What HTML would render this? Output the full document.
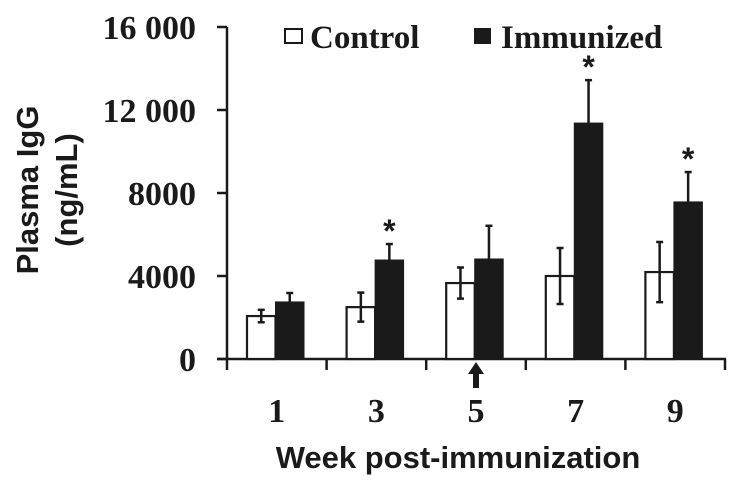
<!DOCTYPE html>
<html><head><meta charset="utf-8"><style>
html,body{margin:0;padding:0;background:#fff;}
svg{display:block;}
</style></head><body>
<svg id="chart" width="741" height="489" viewBox="0 0 741 489" xmlns="http://www.w3.org/2000/svg">
<g id="axes"></g>
<g id="bars"></g>
<g>
  <rect x="285" y="29" width="17" height="14" fill="#fff" stroke="#1a1a1a" stroke-width="2"/>
  <text x="310" y="48" font-family="Liberation Serif, serif" font-weight="bold" font-size="33" fill="#1a1a1a">Control</text>
  <rect x="474" y="28" width="17" height="16" fill="#1a1a1a"/>
  <text x="501" y="48" font-family="Liberation Serif, serif" font-weight="bold" font-size="33" fill="#1a1a1a">Immunized</text>
</g>
<g font-family="Liberation Sans, sans-serif" font-weight="bold" font-size="31" fill="#1a1a1a" text-anchor="middle">
  <text transform="translate(38,190) rotate(-90)">Plasma IgG</text>
  <text transform="translate(77,190) rotate(-90)">(ng/mL)</text>
</g>
<text x="458" y="468" text-anchor="middle" font-family="Liberation Sans, sans-serif" font-weight="bold" font-size="31" fill="#1a1a1a">Week post-immunization</text>
<polygon points="476,362 468,374 473,374 473,388 479,388 479,374 484,374" fill="#1a1a1a"/>
</svg>
<script>
const categories = ['1','3','5','7','9'];
const controlValues = [2070, 2500, 3660, 4000, 4190];
const controlErrors = [300, 700, 750, 1350, 1450];
const immunizedValues = [2750, 4770, 4820, 11370, 7570];
const immunizedErrors = [430, 770, 1600, 2070, 1440];
const significant = [false, true, false, true, true];
const yTicks = [0, 4000, 8000, 12000, 16000];
const yTickLabels = ['0', '4000', '8000', '12 000', '16 000'];

const NS = 'http://www.w3.org/2000/svg';
const x0 = 227, x1 = 725, yBase = 359, yTop = 27, yMax = 16000;
const band = (x1 - x0) / categories.length;
function y(v){ return yBase - (v / yMax) * (yBase - yTop); }
function xCat(i){ return x0 + i * band; }
function mk(tag, attrs, parent){
  const e = document.createElementNS(NS, tag);
  for (const k in attrs) e.setAttribute(k, attrs[k]);
  parent.appendChild(e);
  return e;
}
const axes = document.getElementById('axes');
const bars = document.getElementById('bars');
const ink = '#1a1a1a';

let l = mk('line', {x1:x0, y1:yTop, x2:x0, y2:yBase+1, stroke:ink, 'stroke-width':2.5}, axes);


l = mk('line', {x1:x0-10, y1:yBase, x2:x1+1, y2:yBase, stroke:ink, 'stroke-width':2.5}, axes);



yTicks.forEach((v, i) => {
  const t = mk('line', {x1:x0-10, y1:y(v), x2:x0, y2:y(v), stroke:ink, 'stroke-width':2.5}, axes);
  
  
  const tx = mk('text', {x:196, y:y(v)+12, 'text-anchor':'end', 'font-family':'Liberation Serif, serif', 'font-weight':'bold', 'font-size':34, fill:ink}, axes);
  tx.textContent = yTickLabels[i];
  
  
});
for (let i = 0; i <= categories.length; i++){
  const t = mk('line', {x1:xCat(i), y1:yBase, x2:xCat(i), y2:yBase+11, stroke:ink, 'stroke-width':2.5}, axes);
  
  
}
categories.forEach((c, i) => {
  const tx = mk('text', {x:xCat(i)+band/2, y:422, 'text-anchor':'middle', 'font-family':'Liberation Serif, serif', 'font-weight':'bold', 'font-size':34, fill:ink}, axes);
  tx.textContent = c;
  
  
});

const bw = 28.5, off = 20;
function errBar(cx, v, e, both, name){
  const g = mk('g', {}, bars);
  
  
  const top = y(v + e), bot = both ? y(v - e) : y(v);
  mk('line', {x1:cx, y1:top, x2:cx, y2:bot, stroke:ink, 'stroke-width':2.5}, g);
  mk('line', {x1:cx-3.5, y1:top, x2:cx+3.5, y2:top, stroke:ink, 'stroke-width':2.5}, g);
  if (both) mk('line', {x1:cx-3.5, y1:bot, x2:cx+3.5, y2:bot, stroke:ink, 'stroke-width':2.5}, g);
}
categories.forEach((c, i) => {
  const bx = xCat(i) + off;
  const r1 = mk('rect', {x:bx, y:y(controlValues[i]), width:bw, height:yBase - y(controlValues[i]), fill:'#fff', stroke:ink, 'stroke-width':2.2}, bars);
  
  
  const r2 = mk('rect', {x:bx+bw, y:y(immunizedValues[i]), width:bw, height:yBase - y(immunizedValues[i]), fill:ink, stroke:ink, 'stroke-width':1}, bars);
  
  
  errBar(bx + bw/2, controlValues[i], controlErrors[i], true, 'error-bar-control');
  errBar(bx + bw*1.5, immunizedValues[i], immunizedErrors[i], false, 'error-bar-immunized');
  if (significant[i]) {
    const s = mk('text', {x:bx + bw*1.5, y:y(immunizedValues[i] + immunizedErrors[i]) - 2, 'text-anchor':'middle', 'font-family':'Liberation Sans, sans-serif', 'font-weight':'bold', 'font-size':32, fill:ink}, bars);
    s.textContent = '*';
    
    
  }
});
</script>
</body></html>
